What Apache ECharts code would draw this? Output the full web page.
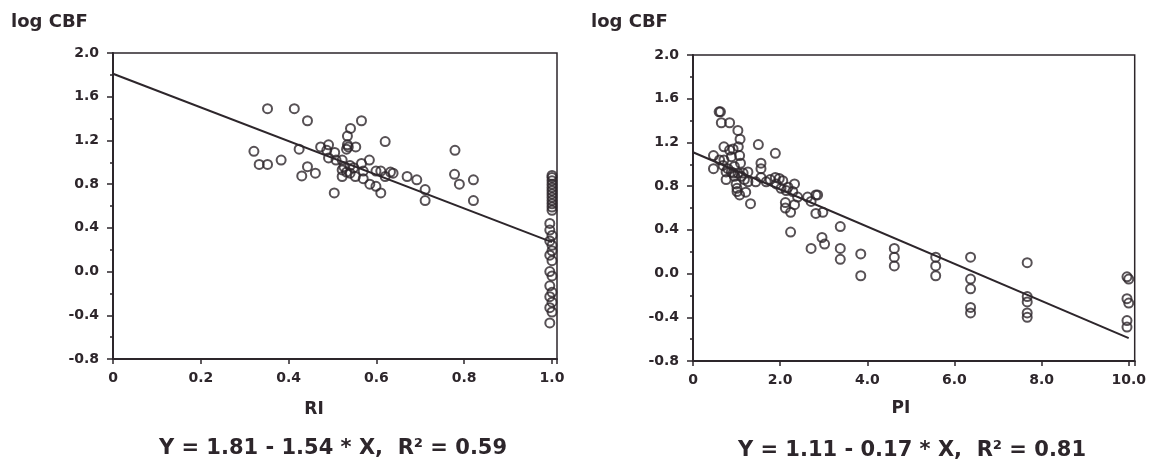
<!DOCTYPE html>
<html>
<head>
<meta charset="utf-8">
<script src="https://cdn.jsdelivr.net/npm/echarts@6/dist/echarts.min.js"></script>
<style>
  html, body { margin: 0; padding: 0; background: #fff; }
  #chart { width: 1149px; height: 470px; }
</style>
</head>
<body>
<div id="chart"></div>
<script>
// RI vs log CBF
const riX = [0.321, 0.333, 0.352, 0.352, 0.383, 0.413, 0.443, 0.424, 0.443, 0.430,
  0.461, 0.473, 0.491, 0.487, 0.505, 0.491, 0.508, 0.522, 0.504, 0.522,
  0.522, 0.532, 0.534, 0.541, 0.534, 0.536, 0.532, 0.553, 0.540, 0.548,
  0.566, 0.566, 0.552, 0.570, 0.584, 0.570, 0.585, 0.599, 0.610, 0.599,
  0.610, 0.620, 0.620, 0.632, 0.638, 0.670, 0.692, 0.711, 0.711, 0.779,
  0.778, 0.789, 0.821, 0.821, 0.526, 0.540,
  1.0, 1.0, 1.0, 1.0, 1.0, 1.0, 1.0, 1.0, 1.0, 1.0, 1.0, 1.0,
  0.995, 0.995, 1.0, 0.995, 1.0, 1.0, 0.995, 1.0, 0.995, 1.0, 0.995, 1.0,
  0.995, 1.0, 0.995, 1.0, 0.995];
const riY = [1.10, 0.98, 0.98, 1.49, 1.02, 1.49, 1.38, 1.12, 0.96, 0.875,
  0.90, 1.14, 1.16, 1.11, 1.09, 1.04, 1.02, 1.02, 0.72, 0.93,
  0.87, 0.91, 1.24, 1.31, 1.16, 1.14, 1.12, 1.14, 0.97, 0.95,
  1.38, 0.99, 0.87, 0.92, 1.02, 0.85, 0.80, 0.78, 0.72, 0.92,
  0.92, 1.19, 0.87, 0.91, 0.90, 0.87, 0.84, 0.75, 0.65, 1.11,
  0.89, 0.80, 0.84, 0.65, 0.96, 0.90,
  0.88, 0.86, 0.83, 0.80, 0.77, 0.74, 0.71, 0.68, 0.65, 0.62, 0.59, 0.56,
  0.44, 0.38, 0.33, 0.28, 0.24, 0.19, 0.15, 0.10, 0.00, -0.04, -0.13, -0.19,
  -0.23, -0.28, -0.33, -0.37, -0.47];

// PI vs log CBF
const piX = [0.60, 0.63, 0.65, 0.84, 1.03, 1.08, 0.47, 0.47, 0.71, 0.71,
  0.76, 0.80, 0.84, 0.92, 0.95, 0.92, 1.01, 1.07, 1.21, 1.32,
  1.04, 1.07, 1.09, 1.03, 1.15, 1.26, 1.26, 0.99, 1.50, 1.56,
  1.56, 1.56, 1.44, 1.68, 1.89, 1.89, 1.98, 1.91, 2.02, 2.12,
  2.12, 2.24, 2.24, 2.18, 2.29, 2.33, 2.33, 2.40, 2.63, 2.71,
  2.71, 2.82, 2.86, 2.82, 2.98, 2.96, 3.02, 3.38, 3.38, 3.38,
  3.85, 3.85, 4.62, 4.62, 4.62, 5.57, 5.57, 5.57, 6.37, 6.37,
  6.37, 6.37, 6.37, 7.67, 7.67, 7.67, 7.67, 7.67, 9.96, 10.0,
  9.96, 10.0, 9.96, 9.96,
  0.61, 0.69, 0.88, 0.95, 1.11, 1.18, 0.88, 0.76, 1.77, 2.06, 2.14, 1.01];
const piY = [1.48, 1.48, 1.38, 1.38, 1.31, 1.23, 1.08, 0.96, 1.16, 1.04,
  0.86, 0.96, 1.13, 1.14, 0.98, 0.92, 0.78, 0.72, 0.745, 0.64,
  1.16, 1.08, 1.01, 0.92, 0.92, 0.93, 0.84, 0.82, 1.18, 1.01,
  0.96, 0.88, 0.84, 0.84, 1.10, 0.88, 0.87, 0.82, 0.78, 0.65,
  0.60, 0.56, 0.38, 0.79, 0.75, 0.82, 0.63, 0.70, 0.70, 0.66,
  0.23, 0.72, 0.72, 0.55, 0.56, 0.33, 0.27, 0.43, 0.23, 0.13,
  0.18, -0.02, 0.23, 0.15, 0.07, 0.15, 0.07, -0.02, 0.15, -0.05,
  -0.14, -0.31, -0.36, 0.10, -0.21, -0.26, -0.36, -0.40, -0.03, -0.05,
  -0.23, -0.27, -0.43, -0.49,
  1.04, 0.99, 0.93, 0.89, 0.89, 0.86, 1.07, 0.93, 0.86, 0.85, 0.76, 0.75];

// regression fits (intercept, slope, x range)
const riFit = [1.81, -1.54, 0, 1.0];
const piFit = [1.11, -0.17, 0, 10.0];

const yTicks = { min: -0.8, max: 2.0, interval: 0.4 };

const ink = '#2d262b';
const font = 'DejaVu Sans';

const zip = (xs, ys) => xs.map((x, i) => [x, ys[i]]);
const fitLine = f => [[f[2], f[0] + f[1] * f[2]], [f[3], f[0] + f[1] * f[3]]];

function xAxisOf(gridIndex, max, step, fmt) {
  return {
    gridIndex, type: 'value', min: 0, max, interval: step,
    axisLine: { show: true, onZero: false, lineStyle: { color: ink, width: 2 } },
    axisTick: { show: true, inside: false, length: 5, lineStyle: { color: ink, width: 1.5 } },
    axisLabel: {
      margin: 12, color: ink, fontFamily: font, fontWeight: 'bold', fontSize: 14,
      formatter: v => {
        const k = v / step;
        if (Math.abs(k - Math.round(k)) > 1e-6) return '';
        return v === 0 ? '0' : v.toFixed(fmt);
      }
    },
    splitLine: { show: false }
  };
}

function yAxisOf(gridIndex) {
  return {
    gridIndex, type: 'value', min: yTicks.min, max: yTicks.max, interval: yTicks.interval,
    axisLine: { show: true, onZero: false, lineStyle: { color: ink, width: 2 } },
    axisTick: { show: true, inside: false, length: 6, lineStyle: { color: ink, width: 1.5 } },
    minorTick: { show: true, splitNumber: 2, length: 3, lineStyle: { color: ink, width: 1.5 } },
    axisLabel: {
      margin: 14, color: ink, fontFamily: font, fontWeight: 'bold', fontSize: 14,
      formatter: v => v.toFixed(1)
    },
    splitLine: { show: false }
  };
}

const dotStyle = { color: 'rgba(0,0,0,0)', borderColor: ink, borderWidth: 2 };

function txt(x, y, text, size, align) {
  return {
    type: 'text', x, y,
    style: {
      text, fill: ink, font: 'bold ' + size + 'px "' + font + '"',
      textAlign: align || 'center', textVerticalAlign: 'middle'
    }
  };
}

const chart = echarts.init(document.getElementById('chart'));
chart.setOption({
  backgroundColor: '#ffffff',
  animation: false,
  grid: [
    { left: 113, top: 53, width: 444, height: 306, show: true, borderColor: ink, borderWidth: 1.5, backgroundColor: 'transparent' },
    { left: 693, top: 55, width: 443, height: 306, show: true, borderColor: ink, borderWidth: 1.5, backgroundColor: 'transparent' }
  ],
  xAxis: [
    xAxisOf(0, 1.0114, 0.2, 1),
    xAxisOf(1, 10.137, 2, 1)
  ],
  yAxis: [yAxisOf(0), yAxisOf(1)],
  series: [
    {
      type: 'line', xAxisIndex: 0, yAxisIndex: 0, data: fitLine(riFit),
      showSymbol: false, lineStyle: { color: ink, width: 2 }
    },
    {
      type: 'scatter', xAxisIndex: 0, yAxisIndex: 0, data: zip(riX, riY),
      symbol: 'circle', symbolSize: 9, itemStyle: dotStyle
    },
    {
      type: 'line', xAxisIndex: 1, yAxisIndex: 1, data: fitLine(piFit),
      showSymbol: false, lineStyle: { color: ink, width: 2 }
    },
    {
      type: 'scatter', xAxisIndex: 1, yAxisIndex: 1, data: zip(piX, piY),
      symbol: 'circle', symbolSize: 9, itemStyle: dotStyle
    }
  ],
  graphic: [
    txt(11, 22, 'log CBF', 18, 'left'),
    txt(591, 22, 'log CBF', 18, 'left'),
    txt(314, 410, 'RI', 17),
    txt(901, 409, 'PI', 17),
    txt(333, 449, 'Y = 1.81 - 1.54 * X,  R² = 0.59', 21),
    txt(912, 451, 'Y = 1.11 - 0.17 * X,  R² = 0.81', 21)
  ]
});
</script>
</body>
</html>
